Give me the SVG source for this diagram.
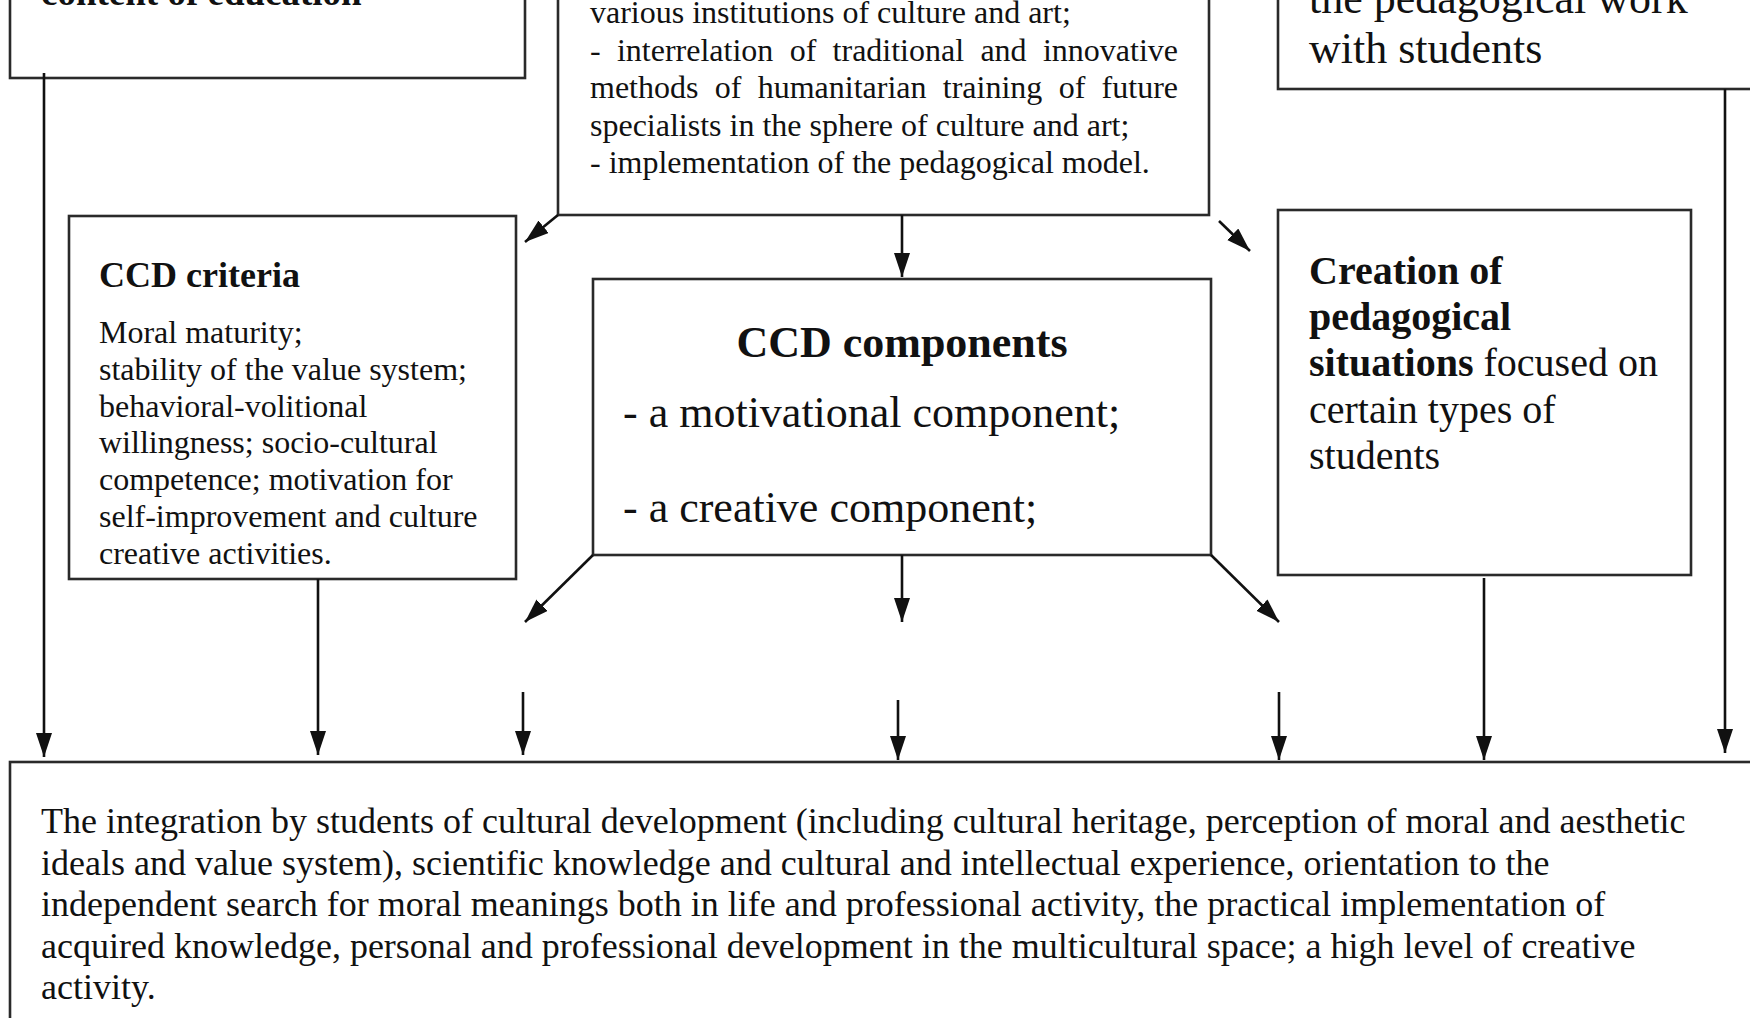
<svg xmlns="http://www.w3.org/2000/svg" width="1750" height="1018" viewBox="0 0 1750 1018">
<style>
.box{fill:#fff;stroke:#2a2a2a;stroke-width:2.6}
.t{font-family:"Liberation Serif","Times New Roman",serif;fill:#111}
.b{font-weight:bold}
.conn line{stroke:#111;stroke-width:2.6;marker-end:url(#ah)}
</style>
<defs>
<marker id="ah" markerUnits="userSpaceOnUse" markerWidth="26" markerHeight="18" refX="24" refY="8" orient="auto">
<path d="M0,0 L24,8 L0,16 z" fill="#111"/>
</marker>
</defs>
<rect width="1750" height="1018" fill="#fff"/>

<g id="node-content">
<rect class="box" x="10" y="-20" width="515" height="98"/>
<text class="t b" x="41" y="5" font-size="37">content of education</text>
</g>

<g id="node-principles">
<rect class="box" x="558" y="-20" width="651" height="235"/>
<g class="t" font-size="32">
<text x="590" y="23">various institutions of culture and art;</text>
<text x="590" y="61" word-spacing="8.3">- interrelation of traditional and innovative</text>
<text x="590" y="98" word-spacing="8.3">methods of humanitarian training of future</text>
<text x="590" y="135.5">specialists in the sphere of culture and art;</text>
<text x="590" y="173">- implementation of the pedagogical model.</text>
</g>
</g>

<g id="node-pedwork">
<rect class="box" x="1278" y="-20" width="500" height="109"/>
<g class="t" font-size="44">
<text x="1309" y="13">the pedagogical work</text>
<text x="1309" y="63">with students</text>
</g>
</g>

<g id="node-criteria">
<rect class="box" x="69" y="216" width="447" height="363"/>
<text class="t b" x="99" y="287" font-size="36">CCD criteria</text>
<g class="t" font-size="32">
<text x="99" y="343">Moral maturity;</text>
<text x="99" y="380">stability of the value system;</text>
<text x="99" y="417">behavioral-volitional</text>
<text x="99" y="453">willingness; socio-cultural</text>
<text x="99" y="490">competence; motivation for</text>
<text x="99" y="527">self-improvement and culture</text>
<text x="99" y="564">creative activities.</text>
</g>
</g>

<g id="node-components">
<rect class="box" x="593" y="279" width="618" height="276"/>
<text class="t b" x="902" y="357" font-size="44" text-anchor="middle">CCD components</text>
<g class="t" font-size="44">
<text x="623" y="427">- a motivational component;</text>
<text x="623" y="522">- a creative component;</text>
</g>
</g>

<g id="node-situations">
<rect class="box" x="1278" y="210" width="413" height="365"/>
<g class="t" font-size="40">
<text x="1309" y="284" class="b">Creation of</text>
<text x="1309" y="330" class="b">pedagogical</text>
<text x="1309" y="376"><tspan font-weight="bold">situations</tspan> focused on</text>
<text x="1309" y="423">certain types of</text>
<text x="1309" y="469">students</text>
</g>
</g>

<g id="node-result">
<rect class="box" x="10" y="762" width="1800" height="300"/>
<g class="t" font-size="36">
<text x="41" y="833">The integration by students of cultural development (including cultural heritage, perception of moral and aesthetic</text>
<text x="41" y="874.5">ideals and value system), scientific knowledge and cultural and intellectual experience, orientation to the</text>
<text x="41" y="916">independent search for moral meanings both in life and professional activity, the practical implementation of</text>
<text x="41" y="957.5">acquired knowledge, personal and professional development in the multicultural space; a high level of creative</text>
<text x="41" y="999">activity.</text>
</g>
</g>

<g id="connectors" class="conn">
<line x1="558" y1="215" x2="525" y2="242"/>
<line x1="902" y1="215" x2="902" y2="277"/>
<line x1="1219" y1="221" x2="1250" y2="251"/>
<line x1="593" y1="555" x2="525" y2="622"/>
<line x1="902" y1="555" x2="902" y2="622"/>
<line x1="1211" y1="555" x2="1279" y2="622"/>
<line x1="44" y1="73" x2="44" y2="757"/>
<line x1="318" y1="579" x2="318" y2="755"/>
<line x1="523" y1="692" x2="523" y2="755"/>
<line x1="898" y1="700" x2="898" y2="760"/>
<line x1="1279" y1="692" x2="1279" y2="760"/>
<line x1="1484" y1="578" x2="1484" y2="760"/>
<line x1="1725" y1="89" x2="1725" y2="753"/>
</g>
</svg>
